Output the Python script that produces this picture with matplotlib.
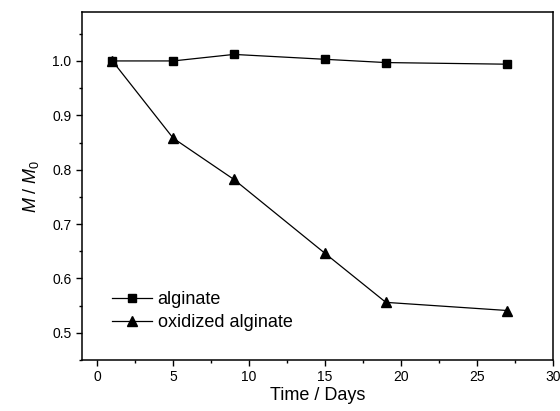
import matplotlib
matplotlib.use('Agg')
import matplotlib.pyplot as plt
from matplotlib.ticker import MultipleLocator

plt.rcParams.update({'font.family': ['Liberation Sans', 'DejaVu Sans'],
                     'font.size': 10,
                     'mathtext.fontset': 'custom',
                     'mathtext.rm': 'Liberation Sans',
                     'mathtext.it': 'Liberation Sans:italic'})

days = [1, 5, 9, 15, 19, 27]
alginate = [1.000, 1.000, 1.012, 1.003, 0.997, 0.994]
oxidized = [1.000, 0.858, 0.782, 0.646, 0.556, 0.541]

fig = plt.figure(figsize=(5.6, 4.11), dpi=100)
ax = fig.add_axes([82 / 560, 1 - 360 / 411, 471 / 560, 348 / 411])

ax.plot(days, alginate, 'k-', marker='s', ms=6, lw=0.9, label='alginate')
ax.plot(days, oxidized, 'k-', marker='^', ms=7, lw=0.9, label='oxidized alginate')

ax.set_xlim(-1, 30)
ax.set_ylim(0.45, 1.09)
ax.xaxis.set_major_locator(MultipleLocator(5))
ax.xaxis.set_minor_locator(MultipleLocator(2.5))
ax.yaxis.set_major_locator(MultipleLocator(0.1))
ax.yaxis.set_minor_locator(MultipleLocator(0.05))
ax.tick_params(direction='out', length=4, width=1, labelsize=10)
ax.tick_params(which='minor', direction='out', length=2.5, width=1)
for s in ax.spines.values():
    s.set_linewidth(1.1)

ax.set_xlabel('Time / Days', fontsize=13, labelpad=2)
ax.set_ylabel(r'$M$ / $M_0$', fontsize=13, labelpad=8)

ax.legend(loc='lower left', bbox_to_anchor=(0.03, 0.037), frameon=False,
          fontsize=13, handlelength=2.2, handletextpad=0.3, labelspacing=0.3)

fig.savefig('out.png')
